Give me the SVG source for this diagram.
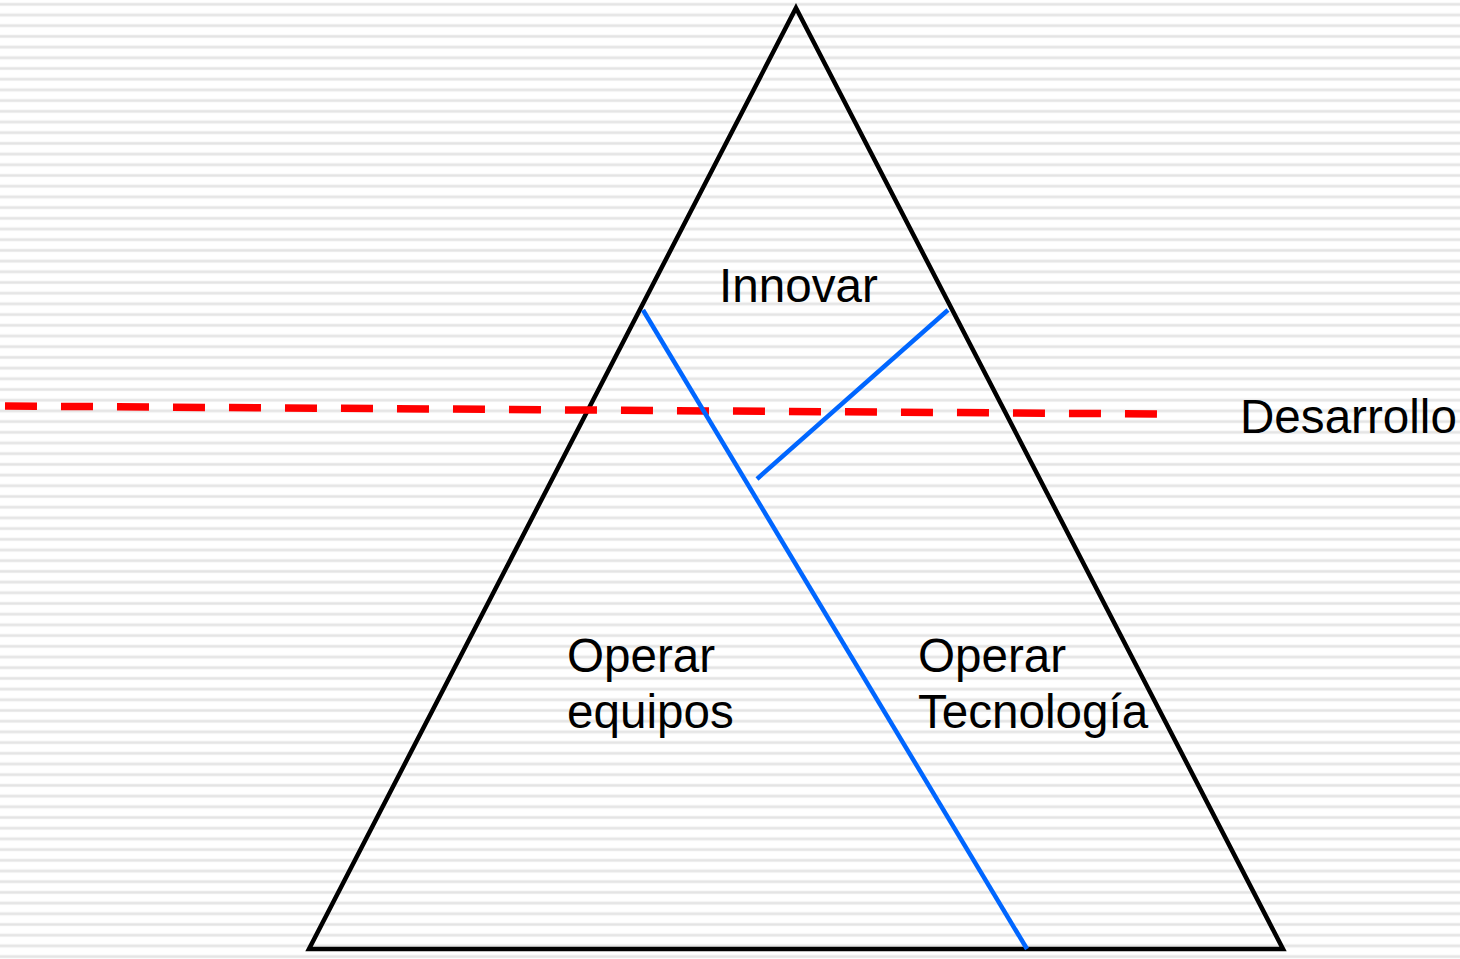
<svg xmlns="http://www.w3.org/2000/svg" width="1460" height="959" viewBox="0 0 1460 959">
  <defs>
    <pattern id="stripes" patternUnits="userSpaceOnUse" x="0" y="0" width="40" height="10.7">
      <rect x="0" y="2.6" width="40" height="3.4" fill="#efefef"/>
      <rect x="0" y="3.4" width="40" height="1.8" fill="#e4e4e4"/>
    </pattern>
    <style>
      .lbl { font-family: "Liberation Sans", Arial, sans-serif; font-size: 47.6px; fill: #000; }
      .tri { fill: none; stroke: #000; stroke-width: 4.5; stroke-linejoin: miter; }
      .blue { stroke: #0066ff; stroke-width: 4.5; fill: none; }
      .red { stroke: #ff0000; stroke-width: 7.5; stroke-dasharray: 32 24; fill: none; }
    </style>
  </defs>
  <rect x="0" y="0" width="1460" height="959" fill="#ffffff"/>
  <rect x="0" y="0" width="1460" height="959" fill="url(#stripes)"/>

  <g id="pyramid">
    <polygon class="tri" points="796,8 1283,949 309,949"/>
  </g>

  <g id="connectors">
    <line class="red" x1="5" y1="406" x2="1157" y2="414"/>
    <line class="blue" x1="643" y1="310" x2="1027" y2="949"/>
    <line class="blue" x1="948" y1="310" x2="757" y2="479"/>
  </g>

  <g id="innovar">
    <text class="lbl" x="719" y="302">Innovar</text>
  </g>
  <g id="desarrollo">
    <text class="lbl" x="1240" y="433">Desarrollo</text>
  </g>
  <g id="operar-equipos">
    <text class="lbl" x="567" y="672">Operar</text>
    <text class="lbl" x="567" y="728">equipos</text>
  </g>
  <g id="operar-tecnologia">
    <text class="lbl" x="918" y="672">Operar</text>
    <text class="lbl" x="918" y="728">Tecnología</text>
  </g>
</svg>
